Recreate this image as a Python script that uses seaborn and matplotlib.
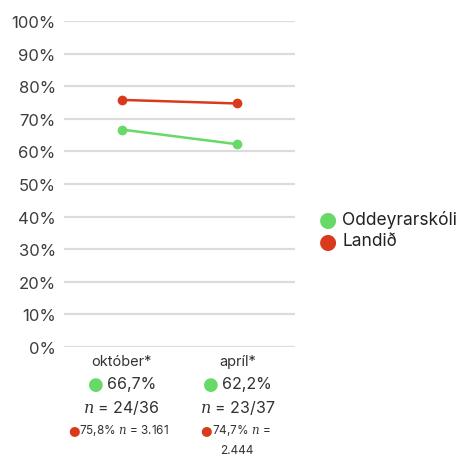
import matplotlib
matplotlib.use("Agg")
import matplotlib.pyplot as plt
import matplotlib.transforms as mtransforms
import seaborn as sns
import pandas as pd

periods = ["október*", "apríl*"]
school_name = "Oddeyrarskóli"
national_name = "Landið"
school_values = [66.7, 62.2]
national_values = [75.8, 74.7]
school_counts = ["24/36", "23/37"]
national_counts = ["3.161", "2.444"]
yticks = [0, 10, 20, 30, 40, 50, 60, 70, 80, 90, 100]

green = "#66d966"
red = "#d9391c"

sns.set_theme(style="white")
plt.rcParams["font.family"] = ["Inter", "DejaVu Sans"]
plt.rcParams["mathtext.fontset"] = "dejavuserif"

df = pd.DataFrame({
    "period": periods * 2,
    "value": school_values + national_values,
    "group": [school_name] * 2 + [national_name] * 2,
})

fig = plt.figure(figsize=(4.57, 4.60), dpi=100)
ax = fig.add_axes([64 / 457, 1 - 348 / 460, (295 - 64) / 457, (348 - 22) / 460])

for y in yticks:
    ax.axhline(y, color="#dcdcdc", lw=1.6, zorder=0)

sns.lineplot(data=df, x="period", y="value", hue="group",
             palette={school_name: green, national_name: red},
             marker="o", markersize=7, markeredgewidth=0, lw=1.8,
             ax=ax, legend=False, zorder=3)

ax.set_xlim(-0.5, 1.5)
ax.set_ylim(0, 100)
ax.set_yticks(yticks)
ax.set_yticklabels([f"{v}%" for v in yticks], fontsize=12, color="#3d3d3d")
ax.tick_params(axis="y", length=0, pad=6)
ax.set_xticks([])
ax.set_xlabel("")
ax.set_ylabel("")
for s in ax.spines.values():
    s.set_visible(False)

trans = mtransforms.blended_transform_factory(ax.transData, fig.transFigure)

def fy(py):
    return 1 - py / 460

for i, period in enumerate(periods):
    ax.text(i, fy(362), period, transform=trans, ha="center", va="center",
            fontsize=10.5, color="#333333")
    # school value with coloured dot
    ax.text(i - 0.225, fy(385), "●", transform=trans, ha="center", va="center",
            fontsize=13, color=green, family="DejaVu Sans")
    ax.text(i - 0.13, fy(385), f"{school_values[i]:.1f}%".replace(".", ","),
            transform=trans, ha="left", va="center", fontsize=11.5, color="#333333")
    ax.text(i, fy(408), f"$n$ = {school_counts[i]}", transform=trans,
            ha="center", va="center", fontsize=11.5, color="#333333")

nat_dot_x = [-0.415, 0.73]
for i in range(2):
    ax.text(nat_dot_x[i], fy(431), "●", transform=trans, ha="center", va="center",
            fontsize=9.5, color=red, family="DejaVu Sans")
ax.text(-0.37, fy(431), f"{national_values[0]:.1f}%".replace(".", ",") + f" $n$ = {national_counts[0]}",
        transform=trans, ha="left", va="center", fontsize=8.5, color="#333333")
ax.text(0.785, fy(431), f"{national_values[1]:.1f}%".replace(".", ",") + " $n$ =",
        transform=trans, ha="left", va="center", fontsize=8.5, color="#333333")
ax.text(1.0, fy(451), national_counts[1], transform=trans, ha="center", va="center",
        fontsize=8.5, color="#333333")

# legend
for name, color, py in [(school_name, green, 220), (national_name, red, 242)]:
    fig.text(328 / 457, fy(py), "●", ha="center", va="center", fontsize=15,
             color=color, family="DejaVu Sans")
    fig.text(342 / 457, fy(py), name, ha="left", va="center", fontsize=12.5,
             color="#222222")

fig.savefig("out.png", dpi=100, facecolor="white")
